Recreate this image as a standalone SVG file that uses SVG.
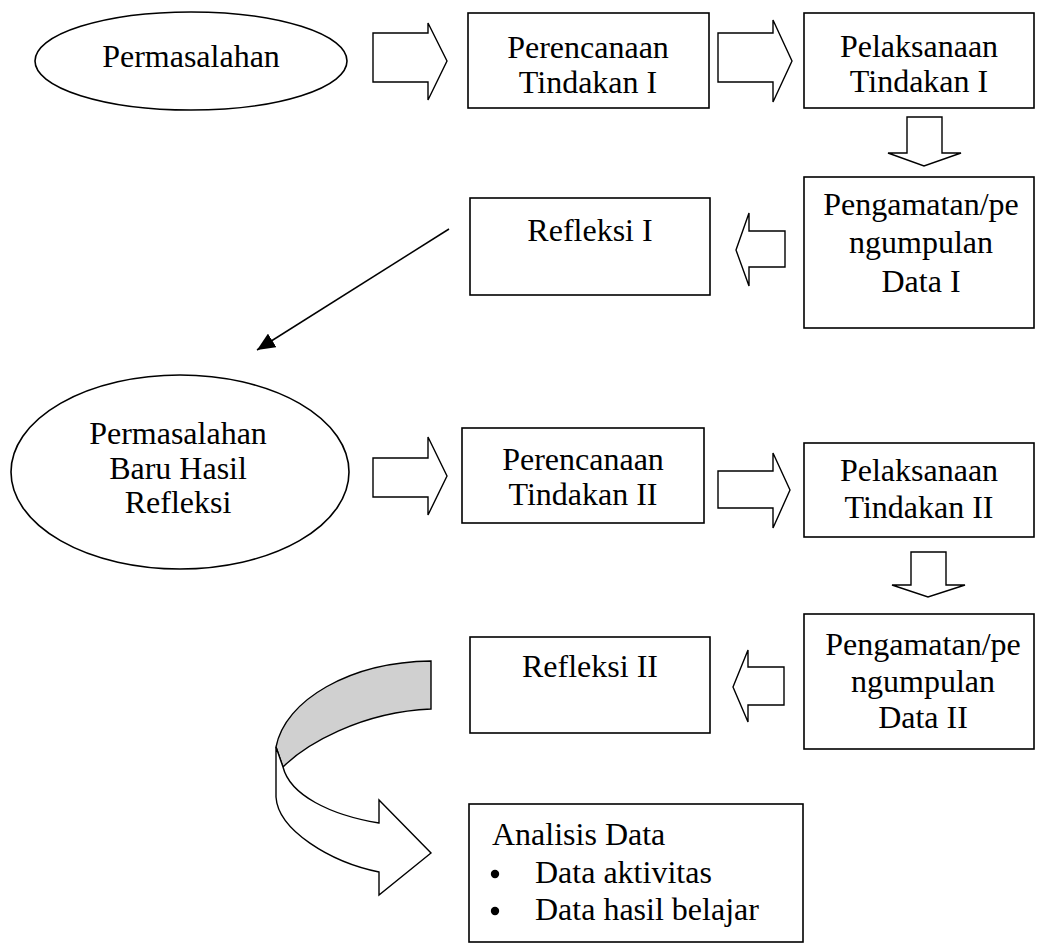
<svg xmlns="http://www.w3.org/2000/svg" width="1038" height="946" viewBox="0 0 1038 946">
<style>
.box{fill:#fff;stroke:#000;stroke-width:1.6}
.blk{fill:#fff;stroke:#000;stroke-width:1.4;stroke-linejoin:miter}
.t{font-family:"Liberation Serif","Times New Roman",serif;font-size:32px;fill:#000}
.c{text-anchor:middle}
</style>
<defs>
<marker id="ah" markerUnits="userSpaceOnUse" markerWidth="20" markerHeight="16" refX="18" refY="8" orient="auto">
<path d="M0,0 L18,8 L0,16 Z" fill="#000"/>
</marker>
</defs>
<rect width="1038" height="946" fill="#fff"/>

<g id="connectors">
<polygon class="blk" points="373,33 428,33 428,23 447,61 428,100 428,82 373,82"/>
<polygon class="blk" points="718,33 773,33 773,20 792,61 773,102 773,82 718,82"/>
<polygon class="blk" points="907,117 942,117 942,153 961,153 924,166 888,153 907,153"/>
<polygon class="blk" points="785,231 749,231 749,213 736,250 749,286 749,267 785,267"/>
<line x1="449" y1="229" x2="257" y2="350" stroke="#000" stroke-width="1.5" marker-end="url(#ah)"/>
<polygon class="blk" points="373,458 428,458 428,437 447,476 428,515 428,497 373,497"/>
<polygon class="blk" points="718,471 773,471 773,453 790,490 773,528 773,508 718,508"/>
<polygon class="blk" points="911,552 946,552 946,585 965,585 928,597 892,585 911,585"/>
<polygon class="blk" points="784,667 748,667 748,650 733,687 748,722 748,705 784,705"/>
<path fill="#d0d0d0" stroke="#000" stroke-width="1.4" d="M431,661 C350,662 285,700 276,747 L283,767 C305,745 360,712 431,709 Z"/>
<path fill="#fff" stroke="#000" stroke-width="1.4" d="M276,747 L276,797 C278,830 330,862 379,872 L379,895 L431,853 L379,800 L379,823 C330,815 290,795 283,767 Z"/>
</g>

<g id="n-permasalahan">
<ellipse class="box" cx="191" cy="61" rx="156" ry="49"/>
<text class="t c" x="191" y="67">Permasalahan</text>
</g>
<g id="n-perencanaan1">
<rect class="box" x="468" y="13" width="241" height="95"/>
<text class="t c" x="588" y="58">Perencanaan</text>
<text class="t c" x="588" y="93">Tindakan I</text>
</g>
<g id="n-pelaksanaan1">
<rect class="box" x="804" y="13" width="230" height="95"/>
<text class="t c" x="919" y="57">Pelaksanaan</text>
<text class="t c" x="919" y="92">Tindakan I</text>
</g>
<g id="n-pengamatan1">
<rect class="box" x="804" y="177" width="230" height="151"/>
<text class="t c" x="921" y="215">Pengamatan/pe</text>
<text class="t c" x="921" y="253">ngumpulan</text>
<text class="t c" x="921" y="292">Data I</text>
</g>
<g id="n-refleksi1">
<rect class="box" x="470" y="198" width="240" height="97"/>
<text class="t c" x="590" y="241">Refleksi I</text>
</g>
<g id="n-permasalahan-baru">
<ellipse class="box" cx="180" cy="472" rx="169" ry="97"/>
<text class="t c" x="178" y="444">Permasalahan</text>
<text class="t c" x="178" y="479">Baru Hasil</text>
<text class="t c" x="178" y="513">Refleksi</text>
</g>
<g id="n-perencanaan2">
<rect class="box" x="462" y="428" width="242" height="95"/>
<text class="t c" x="583" y="470">Perencanaan</text>
<text class="t c" x="583" y="505">Tindakan II</text>
</g>
<g id="n-pelaksanaan2">
<rect class="box" x="804" y="443" width="230" height="94"/>
<text class="t c" x="919" y="481">Pelaksanaan</text>
<text class="t c" x="919" y="518">Tindakan II</text>
</g>
<g id="n-pengamatan2">
<rect class="box" x="804" y="614" width="230" height="135"/>
<text class="t c" x="923" y="655">Pengamatan/pe</text>
<text class="t c" x="923" y="692">ngumpulan</text>
<text class="t c" x="923" y="728">Data II</text>
</g>
<g id="n-refleksi2">
<rect class="box" x="470" y="637" width="240" height="96"/>
<text class="t c" x="590" y="677">Refleksi II</text>
</g>
<g id="n-analisis">
<rect class="box" x="469" y="804" width="334" height="138"/>
<text class="t" x="492" y="845">Analisis Data</text>
<circle cx="495" cy="874" r="4.2" fill="#000"/>
<text class="t" x="535" y="883">Data aktivitas</text>
<circle cx="495" cy="911" r="4.2" fill="#000"/>
<text class="t" x="535" y="920">Data hasil belajar</text>
</g>
</svg>
